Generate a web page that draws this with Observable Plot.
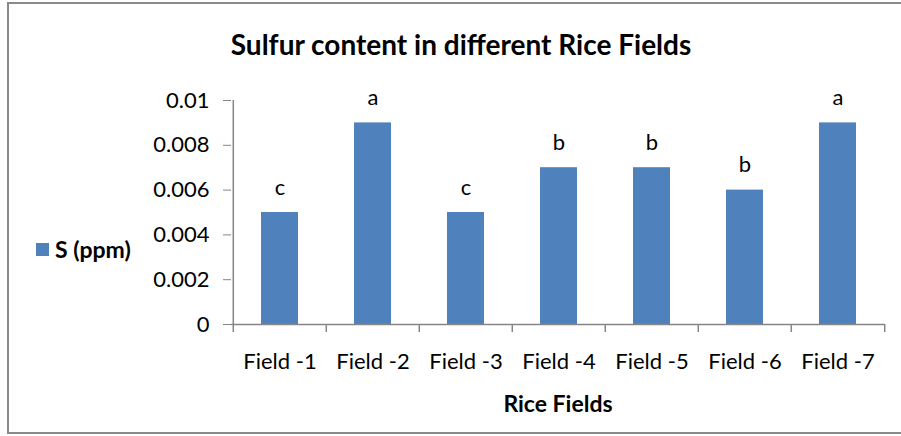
<!DOCTYPE html>
<html>
<head>
<meta charset="utf-8">
<script src="https://cdn.jsdelivr.net/npm/d3@7"></script>
<script src="https://cdn.jsdelivr.net/npm/@observablehq/plot@0.6"></script>
<style>
  html, body { margin: 0; padding: 0; background: #fff; }
  #wrap { position: relative; width: 901px; height: 436px; overflow: hidden; font-family: Lato, "Open Sans", sans-serif; }
  #border { position: absolute; left: 7px; top: 2px; width: 900px; height: 432px; border: 2px solid #8a8a8a; box-sizing: border-box; }
  #title { position: absolute; left: 0; width: 922px; top: 27px; line-height: 34px; text-align: center; font-weight: bold; font-size: 28px; color: #000; }
  #legend { position: absolute; left: 36px; top: 235px; height: 28px; display: flex; align-items: center; font-weight: bold; font-size: 23px; color: #000; }
  #legend .sw { width: 13px; height: 13px; background: #4F81BD; margin-right: 6px; }
  #xtitle { position: absolute; left: 231px; width: 654px; top: 389px; line-height: 28px; text-align: center; font-weight: bold; font-size: 23px; color: #000; }
  #chart { position: absolute; left: 0; top: 0; }
</style>
</head>
<body>
<div id="wrap">
  <div id="chart"></div>
  <div id="border"></div>
  <div id="title">Sulfur content in different Rice Fields</div>
  <div id="legend"><div class="sw"></div><span>S (ppm)</span></div>
  <div id="xtitle">Rice Fields</div>
</div>
<script>
const fields = ["Field -1", "Field -2", "Field -3", "Field -4", "Field -5", "Field -6", "Field -7"];
const sulfur = [0.005, 0.009, 0.005, 0.007, 0.007, 0.006, 0.009];
const letters = ["c", "a", "c", "b", "b", "b", "a"];
const yTicks = [0, 0.002, 0.004, 0.006, 0.008, 0.01];

const data = fields.map((f, i) => ({field: f, value: sulfur[i], letter: letters[i]}));

const W = 901, H = 436, ML = 231, MR = 16, MT = 100, MB = 112;
const bw = (W - ML - MR) / fields.length;
const axisColor = "#868686";

const chart = Plot.plot({
  width: W,
  height: H,
  marginLeft: ML,
  marginRight: MR,
  marginTop: MT,
  marginBottom: MB,
  style: {fontFamily: "Lato, 'Open Sans', sans-serif", background: "transparent", color: "#000"},
  x: {domain: fields, padding: 0, label: null},
  y: {domain: [0, 0.01], label: null},
  marks: [
    Plot.barY(data, {x: "field", y: "value", fill: "#4F81BD", insetLeft: 28, insetRight: 28}),
    Plot.ruleY([0], {stroke: axisColor, strokeWidth: 1.5}),
    Plot.ruleX(fields.slice(0, 1), {x: d => d, dx: -bw / 2, y1: 0, y2: 0.01, stroke: axisColor, strokeWidth: 1.5}),
    Plot.ruleX(fields, {x: d => d, dx: -bw / 2, y1: 0, y2: 0, insetBottom: -8, stroke: axisColor, strokeWidth: 1.5}),
    Plot.ruleX(fields.slice(-1), {x: d => d, dx: bw / 2, y1: 0, y2: 0, insetBottom: -8, stroke: axisColor, strokeWidth: 1.5}),
    Plot.axisY({ticks: yTicks, tickFormat: d => String(d), tickSize: 8, tickPadding: 14, stroke: axisColor, fontSize: 22, fill: "#000", label: null}),
    Plot.axisX({tickSize: 0, tickPadding: 29, fontSize: 22, fill: "#000", label: null}),
    Plot.text(data, {x: "field", y: "value", text: "letter", dy: -25, fontSize: 22, fill: "#000"})
  ]
});
document.getElementById("chart").appendChild(chart);
</script>
</body>
</html>
